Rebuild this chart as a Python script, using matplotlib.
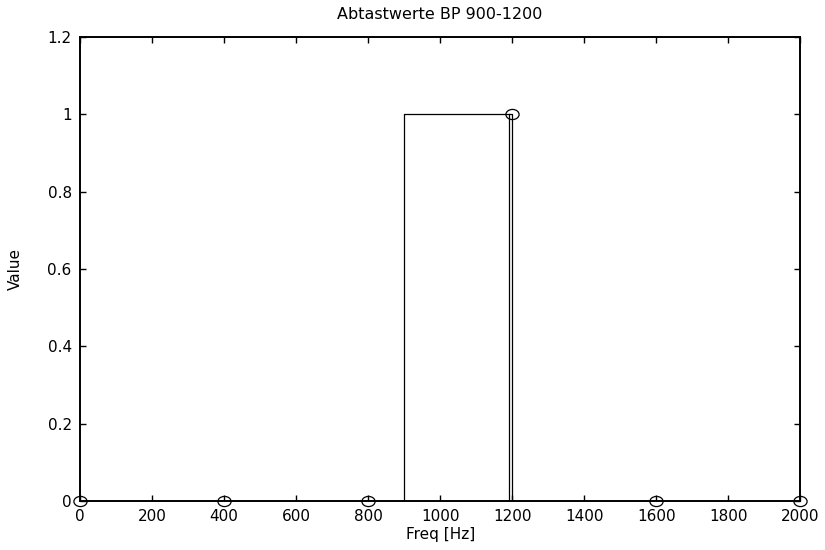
import matplotlib
matplotlib.use("Agg")
import matplotlib.pyplot as plt
from matplotlib.ticker import FuncFormatter
from matplotlib.path import Path

plt.rcParams['font.family'] = ['DejaVu Sans']

# Ideal band-pass response
ideal_freq = [0, 900, 900, 1200, 1200, 2000]
ideal_val = [0, 0, 1, 1, 0, 0]
# second edge line near 1200
edge_freq = [1192, 1192]
edge_val = [0, 1]
# Sample points
sample_freq = [0, 400, 800, 1200, 1600, 2000]
sample_val = [0, 0, 0, 1, 0, 0]

xticks = [0, 200, 400, 600, 800, 1000, 1200, 1400, 1600, 1800, 2000]
yticks = [0, 0.2, 0.4, 0.6, 0.8, 1.0, 1.2]

circ = Path.unit_circle()
ellipse = Path(circ.vertices * [1.3, 1.0], circ.codes)

fig = plt.figure(figsize=(8.25, 5.5), dpi=100)
ax = fig.add_axes([0.097, 0.089, 0.873, 0.8436])

ax.plot(ideal_freq, ideal_val, color='black', linewidth=0.9)
ax.plot(edge_freq, edge_val, color='black', linewidth=0.9)
ax.plot(sample_freq, sample_val, linestyle='none', marker=ellipse, markersize=9.5,
        markerfacecolor='none', markeredgecolor='black', markeredgewidth=0.9,
        clip_on=False)

ax.set_xlim(0, 2000)
ax.set_ylim(0, 1.2)
ax.set_xticks(xticks)
ax.set_yticks(yticks)
ax.yaxis.set_major_formatter(FuncFormatter(lambda v, p: '%g' % round(v, 2)))
ax.xaxis.set_major_formatter(FuncFormatter(lambda v, p: '%g' % v))

ax.tick_params(direction='in', length=4, width=1.0, top=True, right=True,
               labelsize=11, pad=6)
for s in ax.spines.values():
    s.set_linewidth(1.4)

ax.set_title('Abtastwerte BP 900-1200', fontsize=11.5, pad=13)
ax.set_xlabel('Freq [Hz]', fontsize=11, labelpad=2)
ax.set_ylabel('Value', fontsize=11, labelpad=18)

fig.savefig('out.png', dpi=100)
